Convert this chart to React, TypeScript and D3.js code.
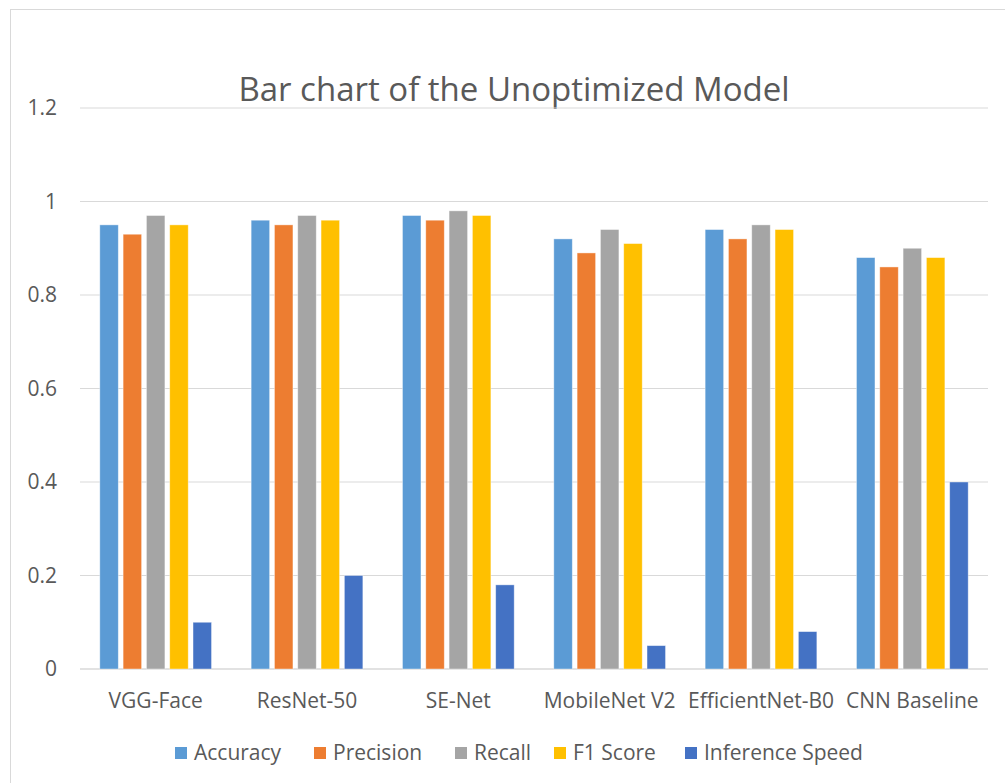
import React from "react";
import * as d3 from "d3";

const categories = ["VGG-Face", "ResNet-50", "SE-Net", "MobileNet V2", "EfficientNet-B0", "CNN Baseline"];
const seriesNames = ["Accuracy", "Precision", "Recall", "F1 Score", "Inference Speed"];
const seriesColors = ["#5B9BD5", "#ED7D31", "#A5A5A5", "#FFC000", "#4472C4"];
const accuracy = [0.95, 0.96, 0.97, 0.92, 0.94, 0.88];
const precision = [0.93, 0.95, 0.96, 0.89, 0.92, 0.86];
const recall = [0.97, 0.97, 0.98, 0.94, 0.95, 0.90];
const f1Score = [0.95, 0.96, 0.97, 0.91, 0.94, 0.88];
const inferenceSpeed = [0.10, 0.20, 0.18, 0.05, 0.08, 0.40];
const yTicks = [0, 0.2, 0.4, 0.6, 0.8, 1, 1.2];
const title = "Bar chart of the Unoptimized Model";

const seriesValues = [accuracy, precision, recall, f1Score, inferenceSpeed];

const W = 1005;
const H = 783;
const plotLeft = 80;
const plotRight = 988;
const plotTop = 108;
const plotBottom = 669;
const FONT = "'Open Sans', 'DejaVu Sans', sans-serif";
const TEXT = "#595959";

export default function App() {
  const x0 = d3.scaleBand<string>().domain(categories).range([plotLeft, plotRight]).paddingInner(0.23).paddingOuter(0.115);
  const x1 = d3.scaleBand<string>().domain(seriesNames).range([0, x0.bandwidth()]).padding(0);
  const y = d3.scaleLinear().domain([0, 1.2]).range([plotBottom, plotTop]);
  const gap = 4.8;
  const barW = x1.bandwidth() - gap;

  const legendItems = [
    { name: seriesNames[0], x: 175 },
    { name: seriesNames[1], x: 314 },
    { name: seriesNames[2], x: 455 },
    { name: seriesNames[3], x: 554 },
    { name: seriesNames[4], x: 685 },
  ];

  return (
    <svg width={W} height={H} style={{ position: "absolute", left: 0, top: 0, background: "#fff" }} fontFamily={FONT}>
      <rect x={0} y={0} width={W} height={H} fill="#fff" />
      <rect x={10.5} y={9.5} width={1010} height={800} fill="none" stroke="#D9D9D9" strokeWidth={1} />
      <text x={514} y={101} textAnchor="middle" fontSize={33} fill={TEXT}>{title}</text>
      {yTicks.map((t) => (
        <g key={t}>
          <line x1={plotLeft} x2={plotRight} y1={y(t)} y2={y(t)} stroke="#D9D9D9" strokeWidth={t === 0 ? 1.5 : 1.2} />
          <text x={57} y={y(t)} dy="0.35em" textAnchor="end" fontSize={21} fill={TEXT}>{d3.format("")(t)}</text>
        </g>
      ))}
      {categories.map((c, ci) => (
        <g key={c}>
          {seriesNames.map((s, si) => {
            const v = seriesValues[si][ci];
            const bx = (x0(c) as number) + (x1(s) as number) + gap / 2;
            return (
              <rect key={s} x={bx} y={y(v)} width={barW} height={y(0) - y(v)} fill={seriesColors[si]} stroke="#fff" strokeOpacity={0.5} strokeWidth={0.8} />
            );
          })}
          <text x={(x0(c) as number) + x0.bandwidth() / 2} y={708} textAnchor="middle" fontSize={21} fill={TEXT}>{c}</text>
        </g>
      ))}
      {legendItems.map((it, i) => (
        <g key={it.name}>
          <rect x={it.x} y={747} width={12} height={12} fill={seriesColors[i]} />
          <text x={it.x + 19} y={760} fontSize={21} fill={TEXT}>{it.name}</text>
        </g>
      ))}
    </svg>
  );
}
